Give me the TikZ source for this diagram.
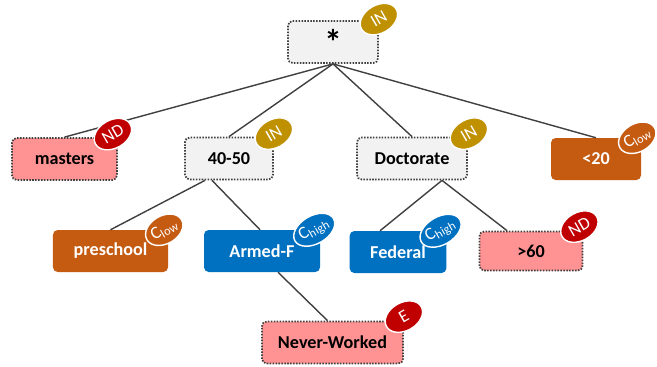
\documentclass[tikz,border=0pt]{standalone}
\usepackage{fontspec}
\setmainfont{Carlito}
\usetikzlibrary{shapes.geometric}
\definecolor{boxgrey}{HTML}{F2F2F2}
\definecolor{boxpink}{HTML}{FF9393}
\definecolor{boxorange}{HTML}{C55A11}
\definecolor{boxblue}{HTML}{0070C0}
\definecolor{badgegold}{HTML}{BF9000}
\definecolor{badgered}{HTML}{C00000}
\definecolor{edgegrey}{HTML}{404040}
\tikzset{
  value/.style={rectangle, rounded corners=4pt, minimum height=1.26cm, inner sep=0pt,
    font=\fontsize{15.5}{18}\selectfont\bfseries},
  dotbox/.style={value, draw=edgegrey, line width=1.5pt, dash pattern=on 1.3pt off 1.2pt},
  greybox/.style={dotbox, fill=boxgrey},
  pinkbox/.style={dotbox, fill=boxpink},
  orangebox/.style={value, fill=boxorange, text=white},
  bluebox/.style={value, fill=boxblue, text=white},
  badge/.style={ellipse, rotate=30, minimum width=1.2cm, minimum height=0.84cm, inner sep=0pt,
    draw=white, line width=1.2pt, text=white, font=\fontsize{15}{16}\selectfont},
  edge/.style={draw=edgegrey, line width=1.2pt}
}
\begin{document}
\begin{tikzpicture}[x=0.03cm, y=-0.03cm]
            \useasboundingbox (0, 0) rectangle (657, 366);
            % values
            \node[greybox, minimum width=2.7cm, font=\fontsize{30}{30}\selectfont\bfseries] (root) at (333, 42) {\raisebox{-6pt}{*}};
            \node[pinkbox, minimum width=3.15cm] (masters) at (64.5, 159) {masters};
            \node[greybox, minimum width=2.64cm] (age) at (229, 158.5) {40-50};
            \node[greybox, minimum width=3.3cm] (doct) at (412, 158.5) {Doctorate};
            \node[orangebox, minimum width=2.7cm] (low) at (596, 159) {<20};
            \node[orangebox, minimum width=3.45cm] (presch) at (110.5, 251) {preschool};
            \node[bluebox, minimum width=3.48cm] (armed) at (262, 251) {Armed-F};
            \node[bluebox, minimum width=2.9cm] (fed) at (398, 252) {Federal};
            \node[pinkbox, minimum width=3.09cm, minimum height=1.17cm] (high) at (531, 251) {>60};
            \node[pinkbox, minimum width=4.23cm] (never) at (332.5, 342.5) {Never-Worked};
            % connectors
            \draw[edge] (root.south) -- (masters.north);
            \draw[edge] (root.south) -- (age.north);
            \draw[edge] (root.south) -- (doct.north);
            \draw[edge] (root.south) -- (low.north);
            \draw[edge] ([shift={(-24, 0)}]age.south) -- (presch.north);
            \draw[edge] ([shift={(-17, 0)}]age.south) -- ([shift={(-2, 0)}]armed.north);
            \draw[edge] ([shift={(30, 0)}]doct.south) -- ([shift={(-18, 0)}]fed.north);
            \draw[edge] ([shift={(30, 0)}]doct.south) -- ([shift={(-24, 0)}]high.north);
            \draw[edge] ([shift={(16, 0)}]armed.south) -- ([shift={(-5, 0)}]never.north);
            % badges
            \node[badge, fill=badgegold] (rootb) at ([shift={(0, -1)}]root.north east) {IN};
            \node[badge, fill=badgered] (mastersb) at ([shift={(-5, -3)}]masters.north east) {ND};
            \node[badge, fill=badgegold] (ageb) at ([shift={(0, -3)}]age.north east) {IN};
            \node[badge, fill=badgegold] (doctb) at ([shift={(1, -3)}]doct.north east) {IN};
            \node[badge, fill=boxorange] (lowb) at ([shift={(-4, 0)}]low.north east) {C\textsubscript{low}};
            \node[badge, fill=boxorange] (preschb) at ([shift={(-4, 0)}]presch.north east) {C\textsubscript{low}};
            \node[badge, fill=boxblue] (armedb) at ([shift={(-6, 0)}]armed.north east) {C\textsubscript{high}};
            \node[badge, fill=boxblue] (fedb) at ([shift={(-6, 0)}]fed.north east) {C\textsubscript{high}};
            \node[badge, fill=badgered] (highb) at ([shift={(-4, -4)}]high.north east) {ND};
            \node[badge, fill=badgered] (neverb) at ([shift={(0, -4)}]never.north east) {E};
        \end{tikzpicture}
\end{document}
